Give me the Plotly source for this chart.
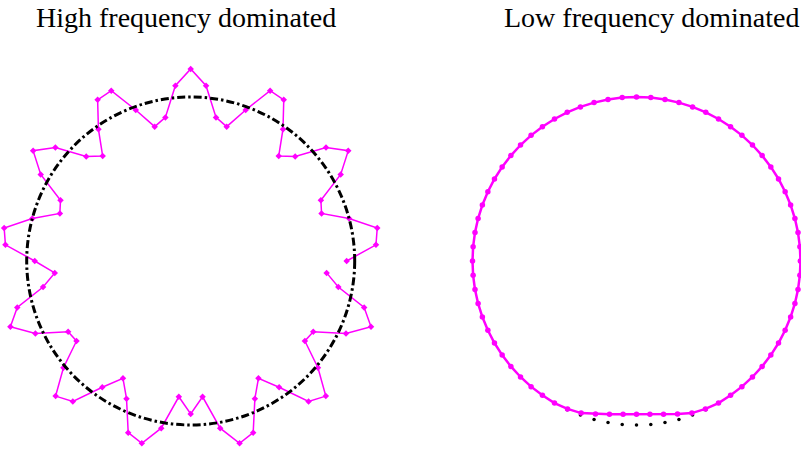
import numpy as np
import plotly.graph_objects as go

# Sampling angles of the contour (degrees, counter-clockwise from +x)
angle_deg = list(range(0, 360, 5))

# Normalised contour radius, high-frequency case
high_r = [0.951, 1.134, 1.155, 1.000, 0.849, 0.876, 1.056, 1.173, 1.077, 0.901,
          0.835, 0.981, 1.135, 1.146, 0.980, 0.848, 0.889, 1.073, 1.171, 1.073,
          0.889, 0.848, 0.980, 1.146, 1.135, 0.981, 0.835, 0.901, 1.077, 1.173,
          1.056, 0.876, 0.849, 1.000, 1.155, 1.134, 0.951, 0.832, 0.914, 1.095,
          1.170, 1.045, 0.863, 0.850, 1.013, 1.165, 1.118, 0.940, 0.826, 0.926,
          1.114, 1.151, 1.035, 0.831, 0.933, 0.831, 1.035, 1.151, 1.114, 0.926,
          0.826, 0.940, 1.118, 1.165, 1.013, 0.850, 0.863, 1.045, 1.170, 1.095,
          0.914, 0.832]

# Normalised contour radius, low-frequency case
low_r = [1.000, 1.000, 1.000, 1.000, 1.000, 1.000, 1.000, 1.000, 1.000, 1.000,
         1.000, 1.000, 1.000, 1.000, 1.000, 1.000, 1.000, 1.000, 1.000, 1.000,
         1.000, 1.000, 1.000, 1.000, 1.000, 1.000, 1.000, 1.000, 1.000, 1.000,
         1.000, 1.000, 1.000, 1.000, 1.000, 1.000, 1.000, 1.000, 1.000, 1.000,
         1.000, 1.000, 1.000, 1.000, 1.000, 1.000, 1.000, 1.000, 1.000, 0.995,
         0.987, 0.966, 0.949, 0.938, 0.935, 0.938, 0.949, 0.966, 0.987, 0.995,
         1.000, 1.000, 1.000, 1.000, 1.000, 1.000, 1.000, 1.000, 1.000, 1.000,
         1.000, 1.000]

# Radius of the undeformed reference circle
ref_r = 1.0

panel_titles = ["High frequency dominated", "Low frequency dominated"]

MAGENTA = "#FF00FF"


def to_xy(angles, radii):
    th = np.deg2rad(np.asarray(angles, dtype=float))
    r = np.asarray(radii, dtype=float)
    return r * np.cos(th), r * np.sin(th)


hx, hy = to_xy(angle_deg, high_r)
lx, ly = to_xy(angle_deg, low_r)
# the low-frequency contour is drawn as a closed loop
lx = np.append(lx, lx[0])
ly = np.append(ly, ly[0])
rx, ry = to_xy(angle_deg, [ref_r] * len(angle_deg))

fig = go.Figure()

# Left panel: high-frequency contour
fig.add_trace(go.Scatter(
    x=hx, y=hy, mode="lines+markers", xaxis="x", yaxis="y",
    line=dict(color=MAGENTA, width=1.5),
    marker=dict(color=MAGENTA, size=5, symbol="diamond"),
    hoverinfo="skip", showlegend=False,
))

# Right panel: reference circle samples, then low-frequency contour
fig.add_trace(go.Scatter(
    x=rx, y=ry, mode="markers", xaxis="x2", yaxis="y2",
    marker=dict(color="black", size=3.5),
    hoverinfo="skip", showlegend=False,
))
fig.add_trace(go.Scatter(
    x=lx, y=ly, mode="lines+markers", xaxis="x2", yaxis="y2",
    line=dict(color=MAGENTA, width=2.5),
    marker=dict(color=MAGENTA, size=5.5),
    hoverinfo="skip", showlegend=False,
))

# Dash-dot reference circle in the left panel
fig.add_shape(
    type="circle", xref="x", yref="y",
    x0=-ref_r, y0=-ref_r, x1=ref_r, y1=ref_r,
    line=dict(color="black", width=3, dash="8px,3px,2.5px,3px"),
    layer="above",
)

W, H = 801, 451
unit = 164.0          # pixels per unit radius
cy = 261.0            # vertical centre of both circles (px from top)
left_cx, right_cx = 190.7, 636.5
split = 0.5

y_range = [-(H - cy) / unit, cy / unit]
left_w = split * W

axis_common = dict(visible=False, showgrid=False, zeroline=False, fixedrange=True)

fig.update_layout(
    width=W, height=H,
    margin=dict(l=0, r=0, t=0, b=0),
    paper_bgcolor="white", plot_bgcolor="white",
    xaxis=dict(domain=[0, split],
               range=[-left_cx / unit, (left_w - left_cx) / unit], **axis_common),
    yaxis=dict(domain=[0, 1], range=y_range, **axis_common),
    xaxis2=dict(domain=[split, 1],
                range=[-(right_cx - left_w) / unit, (W - right_cx) / unit], **axis_common),
    yaxis2=dict(domain=[0, 1], range=y_range, anchor="x2", **axis_common),
)

title_font = dict(family="Liberation Serif, Times New Roman, serif", size=28, color="black")
fig.add_annotation(text=panel_titles[0], xref="paper", yref="paper",
                   x=34 / W, y=1 - 17 / H, xanchor="left", yanchor="middle",
                   showarrow=False, font=title_font)
fig.add_annotation(text=panel_titles[1], xref="paper", yref="paper",
                   x=1, y=1 - 17 / H, xanchor="right", yanchor="middle",
                   showarrow=False, font=title_font)

fig.write_html("out.html")
